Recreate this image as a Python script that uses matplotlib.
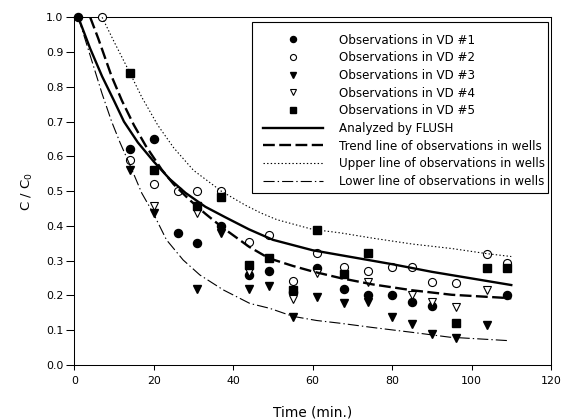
import matplotlib
matplotlib.use("Agg")
import matplotlib.pyplot as plt
from matplotlib.patches import Rectangle

# ---- data ----
vd1_t = [1, 14, 20, 26, 31, 37, 44, 49, 55, 61, 68, 74, 80, 85, 90, 109]
vd1_c = [1.0, 0.62, 0.65, 0.38, 0.35, 0.40, 0.26, 0.27, 0.21, 0.28, 0.22, 0.20, 0.20, 0.18, 0.17, 0.20]

vd2_t = [7, 14, 20, 26, 31, 37, 44, 49, 55, 61, 68, 74, 80, 85, 90, 96, 104, 109]
vd2_c = [1.0, 0.59, 0.52, 0.50, 0.50, 0.50, 0.355, 0.373, 0.242, 0.322, 0.283, 0.271, 0.282, 0.282, 0.24, 0.235, 0.32, 0.293]

vd3_t = [14, 20, 31, 37, 44, 49, 55, 61, 68, 74, 80, 85, 90, 96, 104]
vd3_c = [0.56, 0.437, 0.218, 0.38, 0.218, 0.226, 0.138, 0.197, 0.177, 0.18, 0.137, 0.118, 0.088, 0.079, 0.116]

vd4_t = [20, 31, 44, 55, 61, 74, 85, 90, 96, 104]
vd4_c = [0.458, 0.436, 0.268, 0.189, 0.264, 0.24, 0.20, 0.182, 0.168, 0.216]

vd5_t = [14, 20, 31, 37, 44, 49, 55, 61, 68, 74, 96, 104, 109]
vd5_c = [0.84, 0.56, 0.458, 0.482, 0.288, 0.308, 0.216, 0.389, 0.262, 0.322, 0.122, 0.279, 0.279]

flush_t = [1, 4, 7, 10, 12.5, 16, 20, 24, 28, 33, 38, 44, 50, 60, 70, 80, 90, 100, 110]
flush_c = [1.0, 0.91, 0.83, 0.76, 0.70, 0.64, 0.585, 0.535, 0.495, 0.455, 0.425, 0.39, 0.36, 0.33, 0.31, 0.29, 0.268, 0.249, 0.23]

trend_t = [4, 6, 9.4, 12, 15, 18, 22, 25, 29, 33, 37, 44, 49, 55, 60, 67, 75, 85, 95, 110]
trend_c = [1.0, 0.94, 0.83, 0.76, 0.69, 0.63, 0.562, 0.52, 0.475, 0.435, 0.398, 0.34, 0.307, 0.285, 0.269, 0.25, 0.232, 0.215, 0.202, 0.192]

upper_t = [7, 10, 14, 17, 21, 25, 30, 37, 43, 47, 51, 60, 67, 75, 85, 95, 104, 110]
upper_c = [1.0, 0.93, 0.84, 0.77, 0.69, 0.625, 0.56, 0.50, 0.46, 0.437, 0.418, 0.39, 0.38, 0.365, 0.348, 0.335, 0.32, 0.312]

lower_t = [1, 4, 7, 9.4, 11.5, 14, 17, 19.9, 23.2, 27.4, 31.6, 37.5, 44.2, 49.2, 55, 61, 67, 75, 85, 94.5, 102, 109.4]
lower_c = [1.0, 0.89, 0.78, 0.70, 0.64, 0.575, 0.494, 0.436, 0.36, 0.302, 0.259, 0.216, 0.177, 0.163, 0.14, 0.128, 0.12, 0.108, 0.094, 0.08, 0.075, 0.07]

x_ticks = [0, 20, 40, 60, 80, 100, 120]
y_ticks = [0.0, 0.1, 0.2, 0.3, 0.4, 0.5, 0.6, 0.7, 0.8, 0.9, 1.0]

labels = ["Observations in VD #1", "Observations in VD #2", "Observations in VD #3",
          "Observations in VD #4", "Observations in VD #5", "Analyzed by FLUSH",
          "Trend line of observations in wells", "Upper line of observations in wells",
          "Lower line of observations in wells"]

# ---- figure ----
plt.rcParams['font.family'] = ['DejaVu Sans']
plt.rcParams['lines.scale_dashes'] = False

fig = plt.figure(figsize=(5.63, 4.20), dpi=100)
ax = fig.add_axes([74.3 / 563, 55 / 420, (551 - 74.3) / 563, (365 - 17.3) / 420])

ms = 5.8
ax.plot(vd1_t, vd1_c, 'o', color='black', ms=ms, clip_on=False, zorder=3, label=labels[0])
ax.plot(vd2_t, vd2_c, 'o', color='black', mfc='white', mew=0.8, ms=ms, clip_on=False, zorder=3, label=labels[1])
ax.plot(vd3_t, vd3_c, 'v', color='black', ms=ms + 0.6, clip_on=False, zorder=3, label=labels[2])
ax.plot(vd4_t, vd4_c, 'v', color='black', mfc='white', mew=0.8, ms=ms + 0.6, clip_on=False, zorder=3, label=labels[3])
ax.plot(vd5_t, vd5_c, 's', color='black', ms=ms - 0.3, clip_on=False, zorder=3, label=labels[4])

ax.plot(flush_t, flush_c, '-', color='black', lw=1.7, zorder=4, label=labels[5])
ax.plot(trend_t, trend_c, color='black', lw=1.7, linestyle=(0, (8.5, 3.2)), zorder=4, label=labels[6])
ax.plot(upper_t, upper_c, color='black', lw=0.8, linestyle=(0, (1, 1.6)), zorder=4, label=labels[7])
ax.plot(lower_t, lower_c, color='black', lw=0.8, linestyle=(0, (8, 2.2, 1, 2.2)), zorder=4, label=labels[8])

ax.set_xlim(0, 120)
ax.set_ylim(0, 1.0)
ax.set_xticks(x_ticks)
ax.set_yticks(y_ticks)
ax.set_xticklabels([str(v) for v in x_ticks])
ax.set_yticklabels([f"{v:.1f}" for v in y_ticks])
ax.tick_params(axis='x', direction='out', length=3.6, width=0.75, pad=4.5, labelsize=7.9)
ax.tick_params(axis='y', direction='out', length=6.0, width=0.75, pad=1.8, labelsize=7.9)
for s in ax.spines.values():
    s.set_linewidth(0.75)

ax.set_xlabel("Time (min.)", fontsize=9.8, labelpad=14)
ax.set_ylabel("C / C$_\\mathregular{0}$", fontsize=9.5, labelpad=8)

# legend frame (drawn separately so the inner padding can be asymmetric)
frame = Rectangle((0.3728, 0.4961), 0.9937 - 0.3728, 0.9865 - 0.4961, transform=ax.transAxes,
                  facecolor='white', edgecolor='black', lw=0.8, zorder=5)
ax.add_patch(frame)

leg = ax.legend(loc='upper left', bbox_to_anchor=(0.3958, 0.953), borderaxespad=0,
                fontsize=8.6, handlelength=5.0, handletextpad=1.4, borderpad=0.0,
                labelspacing=0.39, markerscale=0.75, frameon=False, numpoints=1)
leg.set_zorder(6)

fig.savefig("out.png", dpi=100)
